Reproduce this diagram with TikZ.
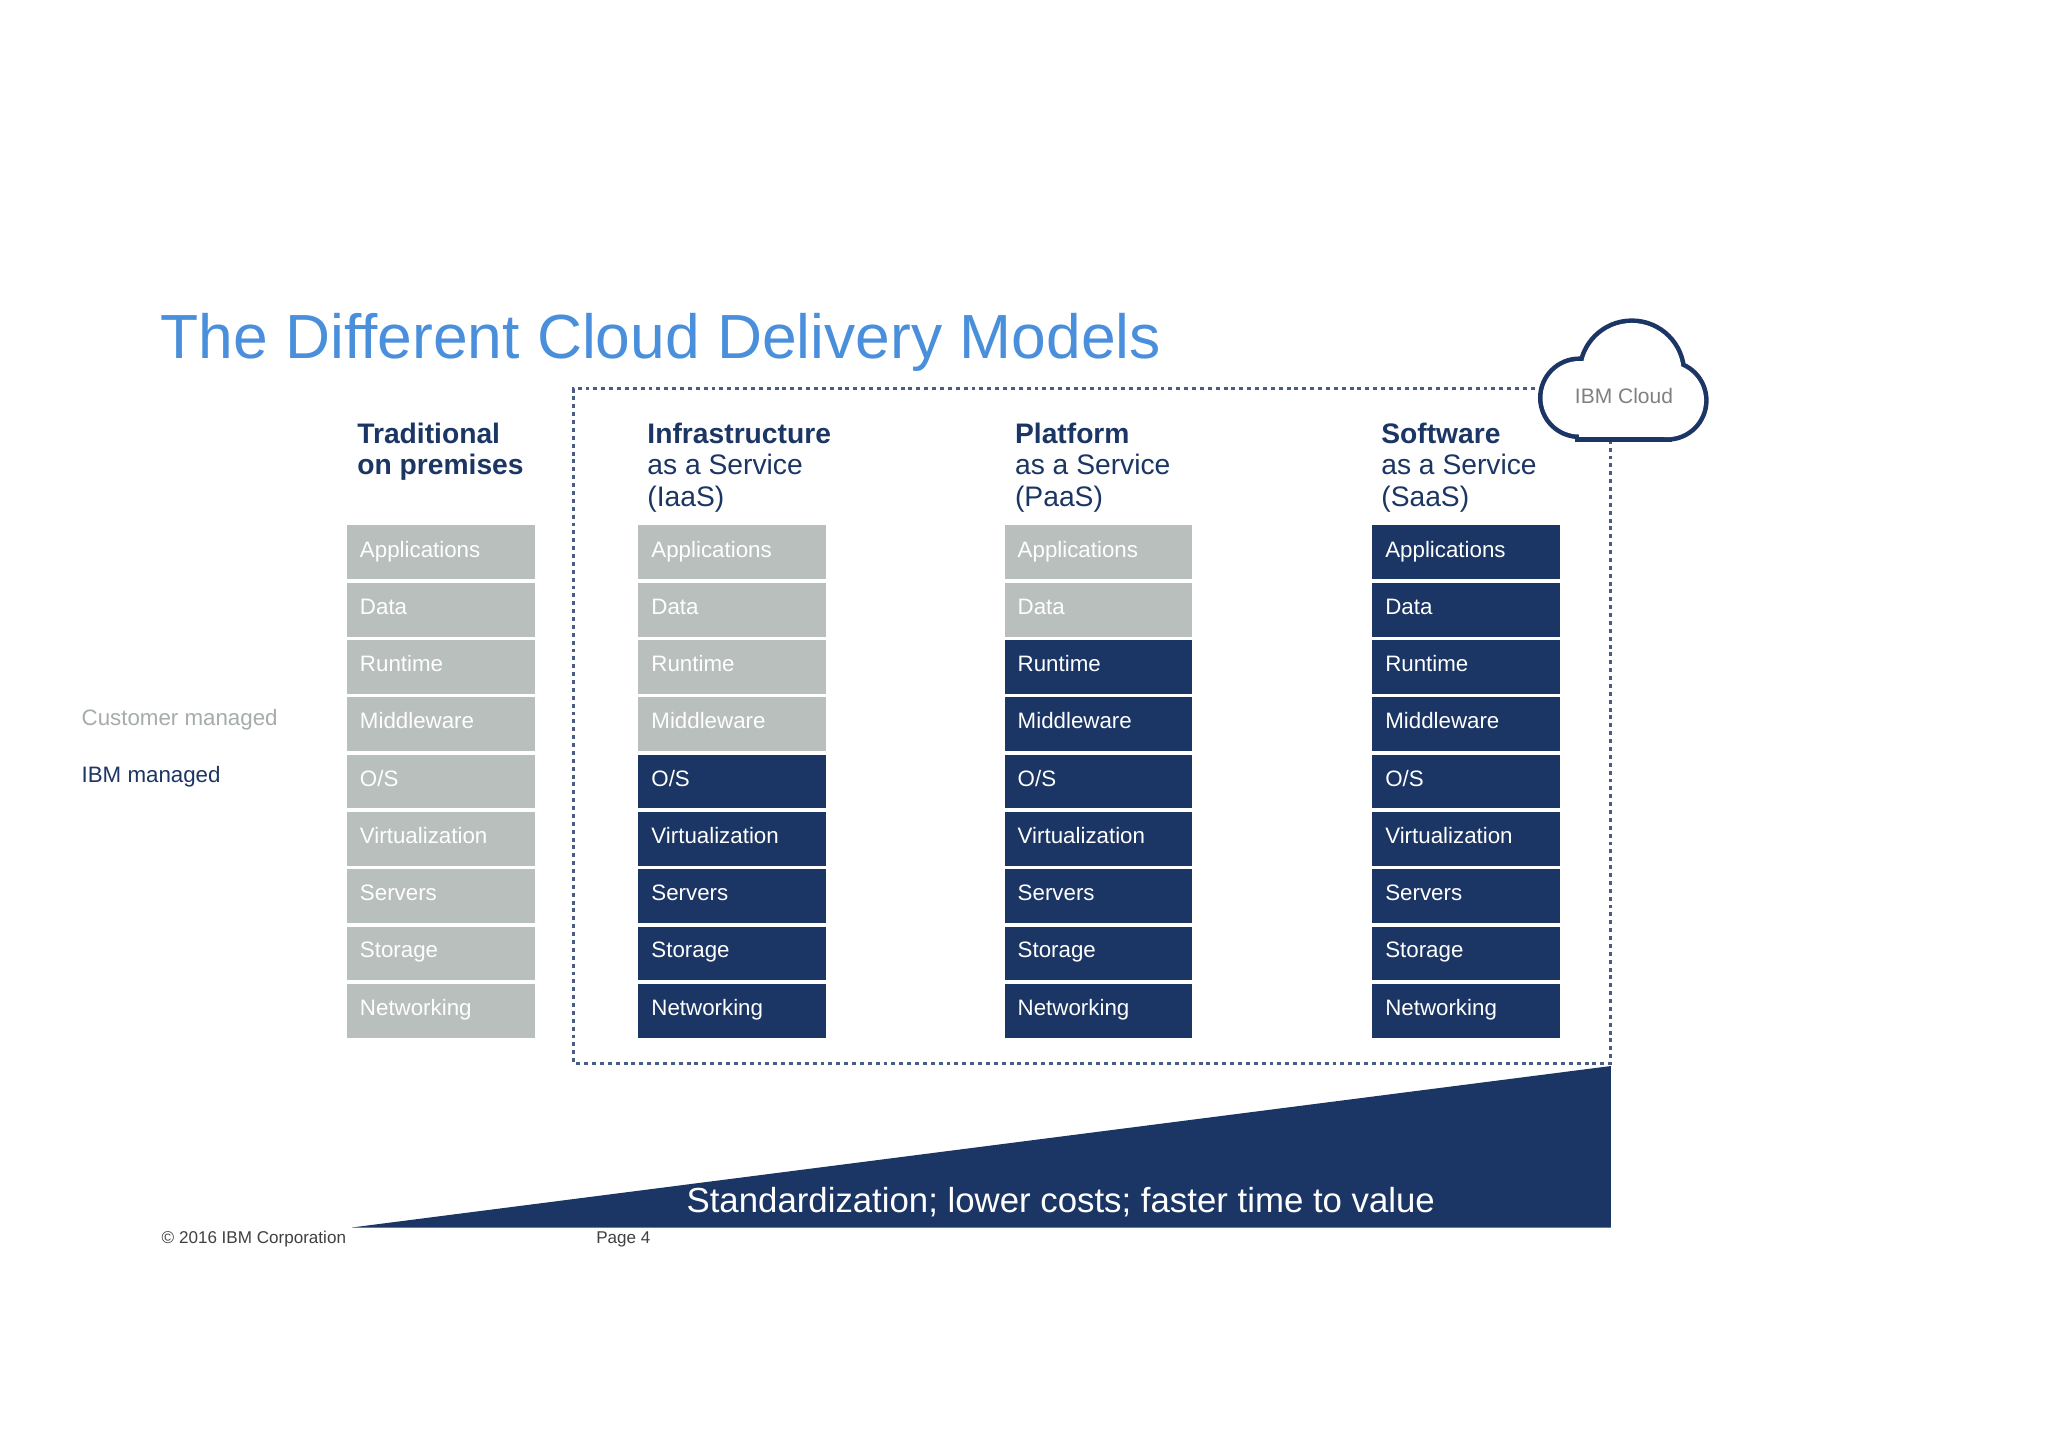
\documentclass[tikz,border=0pt]{standalone}
\usepackage{fontspec}
\setmainfont{Liberation Sans}
\begin{document}
\begin{tikzpicture}[x=1pt,y=-1pt]
\definecolor{navy}{HTML}{1B3564}
\definecolor{gry}{HTML}{B9BFBD}
\definecolor{ttl}{HTML}{4A8FDB}
\definecolor{lgt}{HTML}{A6ABAB}
\tikzset{cell/.style={minimum height=41pt,text width=123pt,align=left,inner xsep=10pt,inner ysep=0pt,anchor=north west,font=\fontsize{17}{17}\selectfont,text=white},
 cg/.style={cell,fill=gry}, cn/.style={cell,fill=navy},
 hdr/.style={anchor=north west,align=left,text=navy,font=\fontsize{21.5}{24}\selectfont,inner sep=0pt}}
\useasboundingbox[fill=white] (0,0) rectangle (1560,1103);
\node[anchor=base west,inner sep=0pt,text=ttl,font=\fontsize{47.5}{48}\selectfont] (title) at (122,273) {The Different Cloud Delivery Models};
\draw[navy!80,line width=2.2pt,dash pattern=on 3pt off 3pt] (1175,296) -- (437,296) -- (437,810) -- (1227,810) -- (1227,333);
% cloud
\draw[navy,line width=7pt] (1203,303) circle (28) (1243,284) circle (38) (1270,305) circle (28);
\draw[navy,line width=7pt] (1203,305) rectangle (1270,333);
\fill[white] (1203,303) circle (28);
\fill[white] (1243,284) circle (38);
\fill[white] (1270,305) circle (28);
\fill[white] (1203,303) rectangle (1270,333);
\node[text=gray,font=\fontsize{16}{16}\selectfont] (cloud) at (1237,302) {IBM Cloud};
% headers
\node[hdr] (h1) at (272,322) {\textbf{Traditional}\\\textbf{on premises}};
\node[hdr] (h2) at (493,322) {\textbf{Infrastructure}\\as a Service\\(IaaS)};
\node[hdr] (h3) at (773,322) {\textbf{Platform}\\as a Service\\(PaaS)};
\node[hdr] (h4) at (1052,322) {\textbf{Software}\\as a Service\\(SaaS)};
\foreach \col/\x/\k in {a/264/9, b/486/4, c/765/2, d/1045/0}{
 \foreach \t [count=\i from 0] in {Applications,Data,Runtime,Middleware,O/S,Virtualization,Servers,Storage,Networking}{
  \pgfmathsetmacro{\yy}{400+\i*43.65}
  \ifnum\i<\k \node[cg] (\col\i) at (\x,\yy) {\strut\t};
  \else \node[cn] (\col\i) at (\x,\yy) {\strut\t};\fi
 }}
\node[anchor=west,inner sep=0pt,text=lgt,font=\fontsize{17}{17}\selectfont] (cm) at (62,548) {Customer managed};
\node[anchor=west,inner sep=0pt,text=navy,font=\fontsize{17}{17}\selectfont] (im) at (62,592) {IBM managed};
\fill[navy] (268,935) -- (1227,812) -- (1227,935) -- cycle;
\node[text=white,font=\fontsize{26.5}{27}\selectfont] (std) at (808,916) {Standardization; lower costs; faster time to value};
\node[anchor=west,inner sep=0pt,text=black!75,font=\fontsize{13}{13}\selectfont] (copy) at (123,944) {\textcopyright\ 2016 IBM Corporation};
\node[anchor=west,inner sep=0pt,text=black!75,font=\fontsize{13}{13}\selectfont] (pg) at (454,944) {Page 4};
\end{tikzpicture}
\end{document}
